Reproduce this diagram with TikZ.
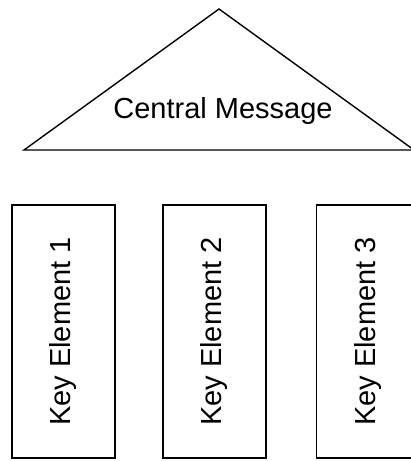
\documentclass[tikz,border=0pt]{standalone}
\usepackage{fontspec}
\setmainfont{Liberation Sans}

\begin{document}
\begin{tikzpicture}[x=1pt,y=-1pt]
	\tikzstyle{element}=[rectangle,draw=black,line width=1.4pt,rotate=90,minimum width=253pt,minimum height=103pt,font=\fontsize{29}{30}\selectfont]
	\useasboundingbox (0,0) rectangle (411,461);
	\coordinate (top) at (219,9);
	\coordinate (left) at (24,150);
	\coordinate (right) at (414,150);
	\draw[line width=1.4pt,line join=miter] (top) -- (left) -- (right) -- cycle;
	\node[font=\fontsize{29}{30}\selectfont](msg) at (223,111) {Central Message};
	\node[element](k1) at (63.5,331.5) {Key Element 1};
	\node[element](k2) at (214.5,331.5) {Key Element 2};
	\node[element](k3) at (368,331.5) {Key Element 3};
\end{tikzpicture}
\end{document}
